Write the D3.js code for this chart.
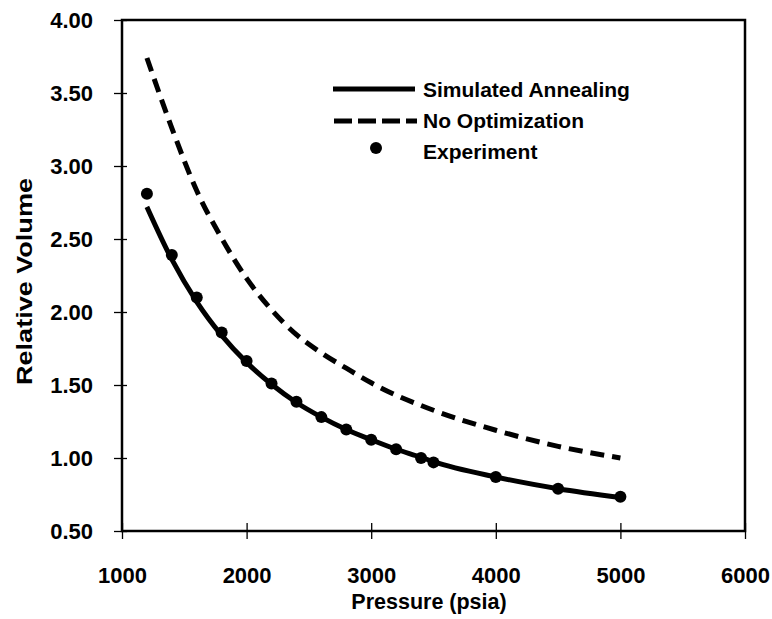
<!DOCTYPE html>
<html><head><meta charset="utf-8">
<script src="https://cdn.jsdelivr.net/npm/d3@7"></script>
<style>body{margin:0;background:#fff} text{font-family:"Liberation Sans",Arial,sans-serif;font-weight:bold;fill:#000}</style>
</head><body><svg id="c" width="772" height="619"></svg>
<script>
const pressures = [1200,1400,1600,1800,2000,2200,2400,2600,2800,3000,3200,3400,3500,4000,4500,5000];
const experiment = [2.81,2.39,2.10,1.86,1.665,1.51,1.385,1.28,1.195,1.125,1.06,1.00,0.97,0.87,0.79,0.735];
const simulatedAnnealing = [2.72,2.36,2.07,1.84,1.655,1.505,1.38,1.28,1.195,1.125,1.06,1.005,0.975,0.87,0.79,0.73];
const noOptimization = [3.74,3.26,2.83,2.505,2.23,2.015,1.845,1.72,1.615,1.515,1.43,1.36,1.327,1.19,1.08,1.00];
const xTicks = [1000,2000,3000,4000,5000,6000];
const yTicks = [0.5,1,1.5,2,2.5,3,3.5,4];
const legendLabels = ["Simulated Annealing","No Optimization","Experiment"];

const svg = d3.select("#c");
const L=122, R=745, T=20, B=531;
const x = d3.scaleLinear().domain([1000,6000]).range([L,R]);
const y = d3.scaleLinear().domain([0.5,4]).range([B,T]);

// frame
svg.append("rect").attr("x",L).attr("y",T).attr("width",R-L).attr("height",B-T)
  .attr("fill","none").attr("stroke","#000").attr("stroke-width",2.5);

// y axis
const ya = svg.append("g").attr("transform",`translate(${L},0)`)
  .call(d3.axisLeft(y).tickValues(yTicks).tickFormat(d3.format(".2f")).tickSize(8).tickPadding(21));
ya.select(".domain").remove();
ya.selectAll(".tick line").attr("x1",5).attr("stroke","#000").attr("stroke-width",1.3);
ya.selectAll(".tick text").style("font-size","22px").attr("fill","#000");

// x axis
const xa = svg.append("g").attr("transform",`translate(0,${B})`)
  .call(d3.axisBottom(x).tickValues(xTicks).tickFormat(d3.format("d")).tickSize(8).tickPadding(28));
xa.select(".domain").remove();
xa.selectAll(".tick line").attr("y1",-8).attr("stroke","#000").attr("stroke-width",1.3);
xa.selectAll(".tick text").style("font-size","22px").attr("fill","#000");

// titles
svg.append("text").attr("x",429).attr("y",609).attr("text-anchor","middle")
  .style("font-size","21.5px").text("Pressure (psia)");
svg.append("text").attr("transform",`translate(32,${(T+B)/2+6}) rotate(-90)`).attr("text-anchor","middle")
  .style("font-size","22px").attr("textLength",207).attr("lengthAdjust","spacingAndGlyphs").text("Relative Volume");

const line = d3.line().curve(d3.curveMonotoneX).x(d=>x(d[0])).y(d=>y(d[1]));
svg.append("path").datum(pressures.map((p,i)=>[p,noOptimization[i]]))
  .attr("d",line).attr("fill","none").attr("stroke","#000").attr("stroke-width",5)
  .attr("stroke-dasharray","14,8");
svg.append("path").datum(pressures.map((p,i)=>[p,simulatedAnnealing[i]]))
  .attr("d",line).attr("fill","none").attr("stroke","#000").attr("stroke-width",5)
  .attr("stroke-linejoin","round");
svg.append("g").selectAll("circle").data(pressures.map((p,i)=>[p,experiment[i]]))
  .join("circle").attr("cx",d=>x(d[0])).attr("cy",d=>y(d[1])).attr("r",6).attr("fill","#000");

// legend
const lg = svg.append("g");
lg.append("line").attr("x1",333).attr("x2",415).attr("y1",89).attr("y2",89)
  .attr("stroke","#000").attr("stroke-width",5);
lg.append("line").attr("x1",334).attr("x2",417).attr("y1",121).attr("y2",121)
  .attr("stroke","#000").attr("stroke-width",5).attr("stroke-dasharray","18,6");
lg.append("circle").attr("cx",376).attr("cy",148).attr("r",6).attr("fill","#000");
legendLabels.forEach((t,i)=>{
  lg.append("text").attr("x",423).attr("y",97+i*31).style("font-size","21px").text(t);
});
</script></body></html>
